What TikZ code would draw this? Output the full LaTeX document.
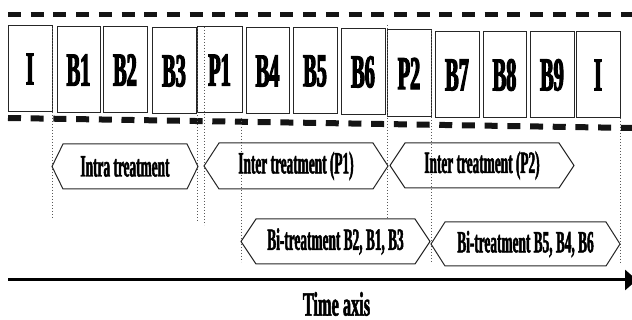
\documentclass[tikz,border=0pt]{standalone}
\usepackage{fontspec}
\setmainfont{Liberation Serif}
\newfontfamily\condfont{Liberation Serif}[FakeStretch=0.43, FakeBold=2.5]
\newfontfamily\bandfont{Liberation Serif}[FakeStretch=0.43, FakeBold=1.5]
\newfontfamily\axisfont{Liberation Serif}[FakeStretch=0.48, FakeBold=1.5]
\usetikzlibrary{arrows.meta}

% hexagonal band: name, left x, right x, top y, bottom y, indent, text
\newcommand\hexband[7]{%
  \draw[band] (#2,{(#4+#5)/2}) -- ({#2+#6},#4) -- ({#3-#6},#4)
    -- (#3,{(#4+#5)/2}) -- ({#3-#6},#5) -- ({#2+#6},#5) -- cycle;
  \node[bandtext] (#1) at ({(#2+#3)/2},{(#4+#5)/2}) {#7};
}

\begin{document}
\begin{tikzpicture}[x=1pt,y=-1pt,
  cell/.style={draw=black!85, line width=1pt, inner sep=0pt,
    font=\condfont\bfseries\fontsize{47}{47}\selectfont},
  band/.style={draw=black!85, line width=1pt},
  bandtext/.style={inner sep=0pt, font=\bandfont\bfseries\fontsize{31}{31}\selectfont},
  guide/.style={draw=black!65, line width=0.8pt, dash pattern=on 1pt off 2pt},
  strip/.style={draw=black!92, dash pattern=on 13pt off 9.7pt},
]
\useasboundingbox (0,0) rectangle (632,320);
\clip (0,0) rectangle (632,320);

% film strip edges
\draw[strip, line width=5pt] (8,14.5) -- (632,14.5);
\draw[strip, line width=6pt] (8,118) -- (632,128);

% frames
\foreach \n/\t/\cx/\cy/\w/\h in {
  i1/I/30/69/44/86, b1/B1/78.5/70/43/86, b2/B2/125/70/44/86,
  b3/B3/174/71/44/86, p1/P1/219.5/70/45/86, b4/B4/267.5/71/43/86,
  b5/B5/315/71/44/86, b6/B6/363/72/44/86, p2/P2/409/73.5/44/87,
  b7/B7/457/75/44/86, b8/B8/504.5/75/43/86, b9/B9/552/75/44/86,
  i2/I/598/75/44/86}
  \node[cell, minimum width=\w pt, minimum height=\h pt] (box-\n) at (\cx,\cy) {\t};

% guide lines
\draw[guide] (52,28) -- (52,218);
\draw[guide] (197,28) -- (197,222);
\draw[guide] (204,27) -- (204,225);
\draw[guide] (241,118) -- (241,262);
\draw[guide] (387,25) -- (387,218);
\draw[guide] (431,30) -- (431,263);
\draw[guide] (620,118) -- (620,263);

% treatment bands
\hexband{intra}{52}{198}{144}{189}{11}{Intra treatment}
\hexband{interA}{204}{388}{143}{189}{15}{Inter treatment (P1)}
\hexband{interB}{390}{574}{143}{188}{15}{Inter treatment (P2)}
\hexband{biA}{241}{430}{219}{264}{15}{Bi-treatment B2, B1, B3}
\hexband{biB}{431}{620}{222}{266}{14}{Bi-treatment B5, B4, B6}

% time axis
\coordinate (axisstart) at (8,280);
\coordinate (axisend) at (637,280);
\draw[line width=3pt, -{Triangle[length=12pt,width=20pt]}] (axisstart) -- (axisend);
\node[inner sep=0pt, font=\axisfont\bfseries\fontsize{34}{34}\selectfont] (axislabel) at (336.5,304) {Time axis};
\end{tikzpicture}
\end{document}
